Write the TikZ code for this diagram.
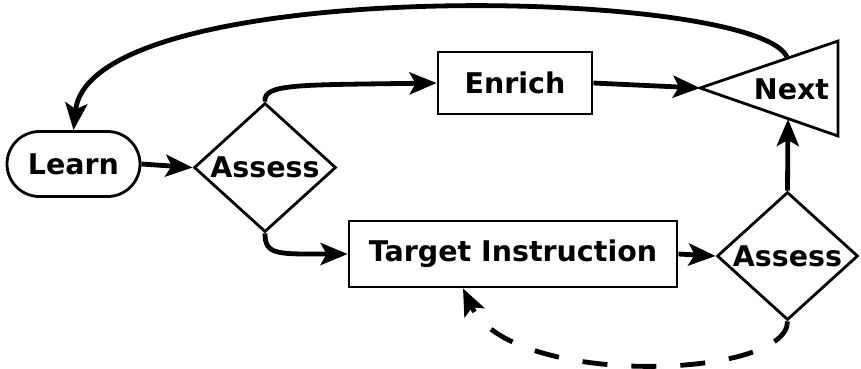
\documentclass[tikz,border=0pt]{standalone}
\usepackage{fontspec}
\setmainfont{DejaVu Sans}
\usetikzlibrary{shapes.geometric,arrows.meta}
\begin{document}
\begin{tikzpicture}[x=1pt,y=-1pt,
  txt/.style={font=\bfseries\fontsize{28.5}{32}\selectfont, inner sep=0pt},
  base/.style={txt, draw, line width=2.8pt},
  box/.style={base, rectangle},
  dia/.style={base, diamond, minimum width=142pt, minimum height=129pt, aspect=1.1},
  arr/.style={line width=4.8pt, -{Stealth[length=27pt,width=22pt,inset=6pt]}},
]
\useasboundingbox (0,0) rectangle (861,368);
\node[base, rounded corners=32.5pt, minimum width=133pt, minimum height=65pt] (learn) at (73.5,164) {Learn};
\node[dia] (a1) at (265,167.5) {Assess};
\node[box, minimum width=154pt, minimum height=62pt] (enrich) at (515,83) {Enrich};
\node[box, minimum width=328pt, minimum height=66pt] (target) at (513,254) {Target Instruction};
\node[dia, minimum width=141pt, minimum height=128pt] (a2) at (787.5,256) {Assess};
\coordinate (nl) at (700,88);
\coordinate (nt) at (838,41);
\coordinate (nb) at (838,136);
\draw[line width=2.8pt, line join=miter] (nl) -- (nt) -- (nb) -- cycle;
\node[txt] (next) at (791.5,89) {Next};
\coordinate (ntop) at (787,57);
\coordinate (nbot) at (788,119);
\draw[arr] (learn.east) -- (a1.west);
\draw[arr] (a1.north) .. controls +(-2,-18) and +(-138,2) .. (enrich.west);
\draw[arr] (a1.south) .. controls +(0,22) and +(-70,0) .. (target.west);
\draw[arr] (enrich.east) -- (nl);
\draw[arr] (target.east) -- (a2.west);
\draw[arr] (a2.north) -- (nbot);
\draw[arr] (ntop) .. controls +(-32,-70) and +(16.5,-156) .. (learn.north);
\draw[arr, dash pattern=on 25pt off 24pt] (a2.south) .. controls +(0,58) and +(47,100) .. ([xshift=-50pt]target.south);
\end{tikzpicture}
\end{document}
